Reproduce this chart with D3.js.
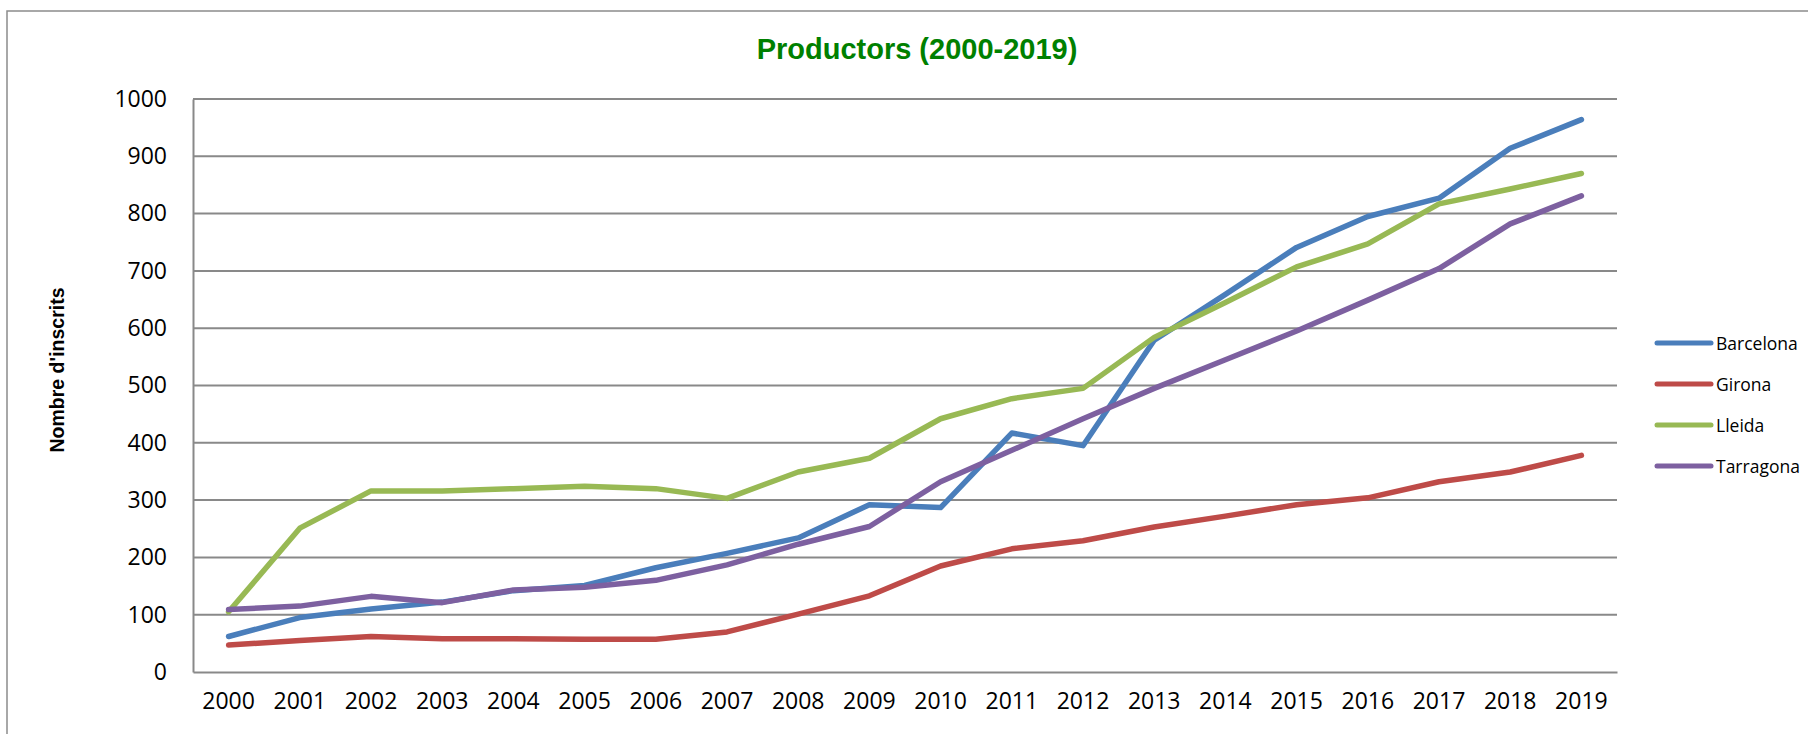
<!DOCTYPE html>
<html>
<head>
<meta charset="utf-8">
<script src="https://cdn.jsdelivr.net/npm/d3@7"></script>
<style>
  body { margin: 0; background: #fff; }
</style>
</head>
<body>
<div id="chart"></div>
<script>
let years = ['2000','2001','2002','2003','2004','2005','2006','2007','2008','2009',
             '2010','2011','2012','2013','2014','2015','2016','2017','2018','2019'];
let barcelona = [62,95,110,122,142,151,182,207,234,292,287,417,395,579,659,741,795,827,914,964];
let girona    = [47,55,62,58,58,57,57,70,101,133,185,215,229,253,272,292,304,332,349,378];
let lleida    = [105,251,316,316,320,324,320,303,349,373,442,477,495,584,645,707,747,817,843,870];
let tarragona = [109,115,132,121,143,148,160,187,223,254,332,387,442,495,545,595,649,704,782,831];
let yTicks = [0,100,200,300,400,500,600,700,800,900,1000];
let names = ['Barcelona','Girona','Lleida','Tarragona'];
let colors = ['#4A7EBB','#BE4B48','#98B954','#7D60A0'];

let series = [barcelona, girona, lleida, tarragona].map((v, i) => ({name: names[i], color: colors[i], values: v}));

let width = 1808,
    height = 734,
    plotLeft = 193, plotRight = 1617, plotTop = 99, plotBottom = 672;

let svg = d3.select('#chart').append('svg')
    .attr('width', width)
    .attr('height', height)
    .style('background', '#fff');

// outer frame (only top and left edge visible)
svg.append('rect')
    .attr('x', 7).attr('y', 11)
    .attr('width', 1900).attr('height', 900)
    .attr('fill', 'none')
    .attr('stroke', '#8c8c8c')
    .attr('stroke-width', 1.5);

let xScale = d3.scaleBand()
    .domain(years)
    .range([plotLeft, plotRight]);

let yScale = d3.scaleLinear()
    .domain([0, 1000])
    .range([plotBottom, plotTop]);

// gridlines
svg.append('g').selectAll('line')
    .data(yTicks.filter(d => d > 0))
    .enter().append('line')
        .attr('x1', plotLeft).attr('x2', plotRight)
        .attr('y1', d => yScale(d)).attr('y2', d => yScale(d))
        .attr('stroke', '#898989')
        .attr('stroke-width', 2);

// y axis
let yAxis = svg.append('g')
    .attr('transform', `translate(${plotLeft},0)`)
    .call(d3.axisLeft(yScale).tickValues(yTicks).tickFormat(d3.format('d')).tickSize(0).tickPadding(26));
yAxis.select('.domain').attr('stroke', '#898989').attr('stroke-width', 2);
yAxis.selectAll('text')
    .style('font-family', '"Open Sans", sans-serif')
    .style('font-size', '23px')
    .attr('fill', '#000');

// x axis
let xAxis = svg.append('g')
    .attr('transform', `translate(0,${plotBottom})`)
    .call(d3.axisBottom(xScale).tickSize(0).tickPadding(21));
xAxis.select('.domain').attr('stroke', '#898989').attr('stroke-width', 2);
xAxis.selectAll('text')
    .style('font-family', '"Open Sans", sans-serif')
    .style('font-size', '23px')
    .attr('fill', '#000');

// lines
let line = d3.line()
    .x((d, i) => xScale(years[i]) + xScale.bandwidth() / 2)
    .y(d => yScale(d));

svg.append('g').selectAll('path')
    .data(series)
    .enter().append('path')
        .attr('d', d => line(d.values))
        .attr('fill', 'none')
        .attr('stroke', d => d.color)
        .attr('stroke-width', 5.5)
        .attr('stroke-linecap', 'round')
        .attr('stroke-linejoin', 'round');

// title
svg.append('text')
    .attr('x', 917).attr('y', 59)
    .attr('text-anchor', 'middle')
    .style('font-family', '"Liberation Sans", Arial, sans-serif')
    .style('font-weight', 'bold')
    .style('font-size', '29px')
    .attr('fill', '#008000')
    .text('Productors (2000-2019)');

// y axis title
svg.append('text')
    .attr('transform', 'translate(64,370) rotate(-90)')
    .attr('text-anchor', 'middle')
    .style('font-family', '"Liberation Sans", Arial, sans-serif')
    .style('font-weight', 'bold')
    .style('font-size', '19.5px')
    .attr('fill', '#000')
    .text("Nombre d'inscrits");

// legend
let legend = svg.append('g').selectAll('g')
    .data(series)
    .enter().append('g')
        .attr('transform', (d, i) => `translate(1657,${343 + i * 41})`);
legend.append('line')
    .attr('x1', 0).attr('x2', 54)
    .attr('stroke', d => d.color)
    .attr('stroke-width', 5)
    .attr('stroke-linecap', 'round');
legend.append('text')
    .attr('x', 59).attr('y', 6.5)
    .style('font-family', '"Open Sans", sans-serif')
    .style('font-size', '17.5px')
    .attr('fill', '#000')
    .text(d => d.name);
</script>
</body>
</html>
